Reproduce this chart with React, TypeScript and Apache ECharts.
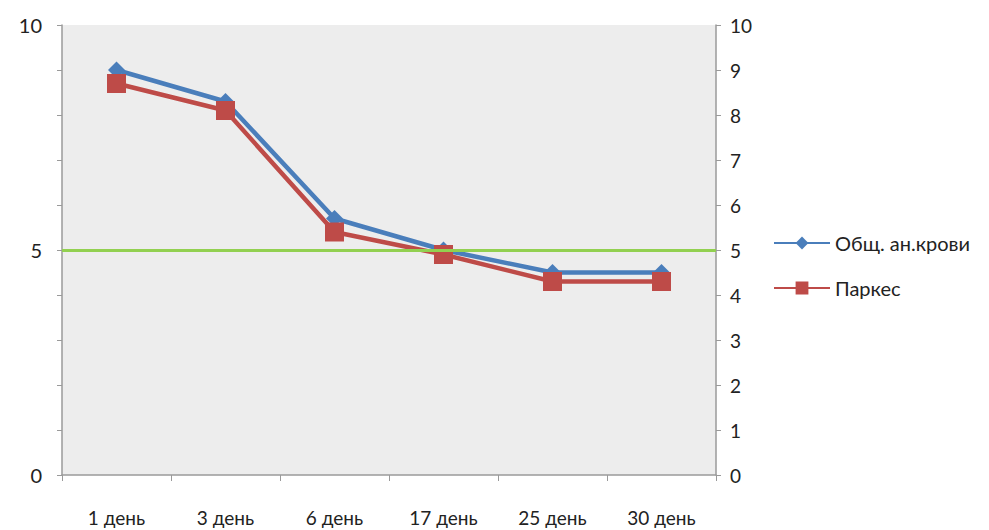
import React, { useEffect, useRef } from "react";
import * as echarts from "echarts";

const categories = ["1 день", "3 день", "6 день", "17 день", "25 день", "30 день"];
const bloodValues = [9.0, 8.3, 5.7, 5.0, 4.5, 4.5];
const parkesValues = [8.7, 8.1, 5.4, 4.9, 4.3, 4.3];
const normLevel = 5;
const leftTicks = [0, 5, 10];

export default function App() {
  const ref = useRef<HTMLDivElement>(null);
  useEffect(() => {
    if (!ref.current) return;
    const chart = echarts.init(ref.current, undefined, { renderer: "svg" });
    const font = "Lato, 'Open Sans', sans-serif";
    chart.setOption({
      animation: false,
      backgroundColor: "#ffffff",
      textStyle: { fontFamily: font },
      grid: {
        left: 62,
        right: 273,
        top: 25,
        bottom: 55,
        show: true,
        backgroundColor: "#ededed",
        borderWidth: 0,
      },
      legend: {
        orient: "vertical",
        left: 768,
        top: 228,
        itemWidth: 56,
        itemHeight: 16,
        itemGap: 25,
        textStyle: { fontSize: 20, color: "#222", fontFamily: font },
        data: ["Общ. ан.крови", "Паркес"],
      },
      xAxis: {
        type: "category",
        data: categories,
        boundaryGap: true,
        axisLine: { lineStyle: { color: "#9a9a9a", width: 1.5 } },
        axisTick: { show: true, length: 6, lineStyle: { color: "#9a9a9a" } },
        axisLabel: { fontSize: 19, color: "#222", margin: 33, fontFamily: font },
      },
      yAxis: [
        {
          type: "value",
          min: 0,
          max: 10,
          interval: 1,
          position: "left",
          axisLine: { show: true, lineStyle: { color: "#9a9a9a", width: 1.5 } },
          axisTick: { show: true, length: 5, lineStyle: { color: "#9a9a9a" } },
          axisLabel: {
            fontSize: 20,
            color: "#222",
            margin: 20,
            fontFamily: font,
            formatter: (v: number) => (leftTicks.includes(v) ? String(v) : ""),
          },
          splitLine: { show: false },
        },
        {
          type: "value",
          min: 0,
          max: 10,
          interval: 1,
          position: "right",
          axisLine: { show: true, lineStyle: { color: "#9a9a9a", width: 1.5 } },
          axisTick: { show: true, length: 5, lineStyle: { color: "#9a9a9a" } },
          axisLabel: { fontSize: 19, color: "#222", margin: 14, fontFamily: font },
          splitLine: { show: false },
        },
      ],
      series: [
        {
          name: "Общ. ан.крови",
          type: "line",
          data: bloodValues,
          yAxisIndex: 0,
          symbol: "diamond",
          symbolSize: 17,
          lineStyle: { color: "#4a7ebb", width: 4.5 },
          itemStyle: { color: "#4a7ebb" },
          markLine: {
            silent: true,
            symbol: "none",
            label: { show: false },
            lineStyle: { color: "#92d050", width: 3, type: "solid" },
            data: [{ yAxis: normLevel }],
          },
          z: 3,
        },
        {
          name: "Паркес",
          type: "line",
          data: parkesValues,
          yAxisIndex: 0,
          symbol: "rect",
          symbolSize: 19,
          lineStyle: { color: "#be4b48", width: 4.5 },
          itemStyle: { color: "#be4b48" },
          z: 4,
        },
      ],
    });
    return () => chart.dispose();
  }, []);
  return (
    <div
      ref={ref}
      style={{ position: "absolute", left: 0, top: 0, width: 989, height: 530 }}
    />
  );
}
